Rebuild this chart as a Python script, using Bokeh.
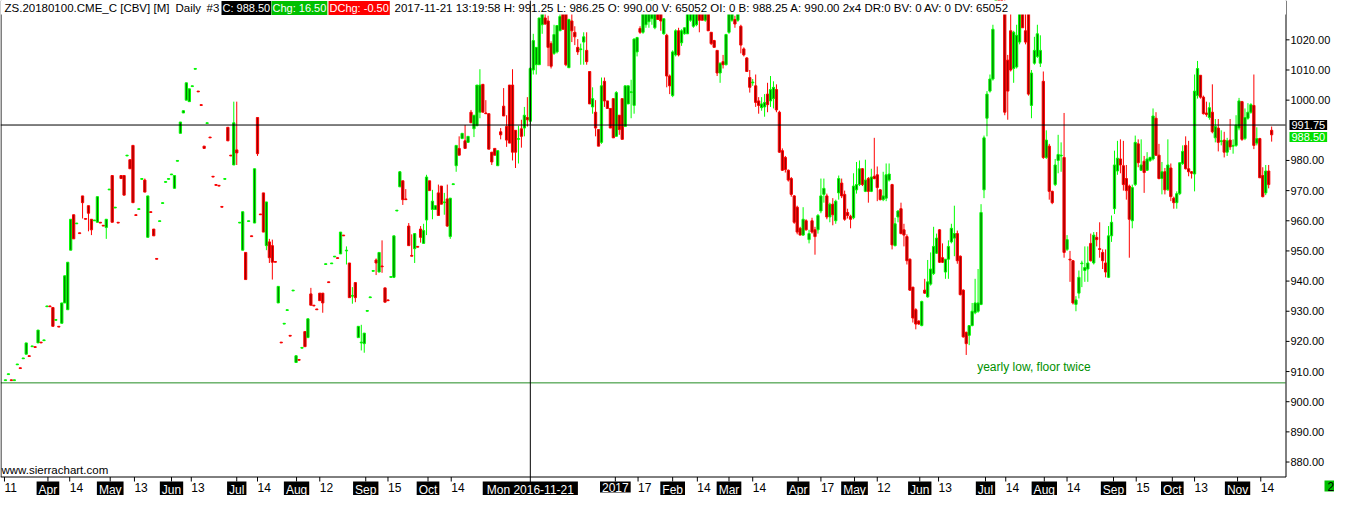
from bokeh.plotting import figure
from bokeh.models import ColumnDataSource, Range1d, Span, Label, BoxAnnotation
from bokeh.core.properties import value
from bokeh.embed import file_html
from bokeh.resources import INLINE

# ---------------- data (daily bars, ZS Jan-2018, Mar 2016 .. 2017-11-21) ----------------
opens = [
    907.0, 909.0, 907.25, 907.0, 912.25, 911.25, 914.25, 915.75, 915.25, 918.25,
    918.25, 919.5, 919.75, 920.25, 931.5, 931.75, 931.25, 927.0, 925.0, 926.0,
    932.75, 930.5, 950.25, 962.0, 959.0, 956.0, 968.25, 960.75, 965.0, 960.5,
    960.0, 959.5, 959.5, 958.5, 957.75, 970.25, 975.0, 964.25, 959.5, 975.0,
    975.0, 981.5, 980.25, 985.0, 962.0, 963.75, 973.75, 973.5, 954.5, 963.0,
    957.25, 947.5, 959.75, 965.75, 972.75, 973.75, 975.25, 970.75, 979.75, 989.0,
    995.75, 1000.0, 999.5, 1004.5, 1010.25, 1003.0, 998.5, 984.75, 992.25, 987.75,
    974.75, 972.0, 971.75, 964.75, 973.75, 991.0, 981.75, 978.5, 983.5, 959.25,
    950.25, 949.5, 959.75, 955.0, 959.25, 994.25, 962.25, 969.25, 951.75, 953.0,
    951.75, 946.5, 932.75, 919.75, 925.75, 930.25, 922.0, 936.75, 913.0, 914.0,
    917.75, 923.25, 921.25, 935.75, 932.0, 930.75, 936.0, 936.0, 945.5, 939.75,
    945.75, 948.0, 947.75, 949.0, 955.25, 950.0, 946.0, 935.0, 939.5, 921.25,
    919.5, 919.25, 930.0, 934.5, 943.25, 947.0, 943.0, 945.0, 937.75, 933.75,
    941.25, 941.25, 963.25, 971.25, 973.25, 967.25, 958.25, 948.5, 950.75, 951.5,
    957.25, 952.5, 960.25, 973.25, 963.75, 963.75, 969.25, 971.5, 966.0, 967.25,
    954.75, 972.0, 978.25, 984.0, 987.25, 986.5, 986.0, 996.0, 990.5, 991.5,
    996.0, 1005.25, 995.75, 995.5, 982.75, 984.0, 978.25, 989.5, 998.0, 991.25,
    1005.0, 1005.0, 990.0, 987.0, 990.5, 990.75, 994.25, 993.0, 1010.0, 1011.75,
    1011.75, 1025.0, 1027.25, 1026.25, 1018.75, 1015.5, 1016.0, 1023.0, 1029.0, 1029.0,
    1010.75, 1026.25, 1022.5, 1017.5, 1016.75, 1019.25, 1016.5, 1009.5, 997.75, 996.0,
    990.25, 986.0, 1006.25, 999.75, 997.25, 1000.5, 988.0, 995.0, 1000.5, 991.25,
    998.75, 1002.5, 998.25, 1016.0, 1023.75, 1022.5, 1025.0, 1026.0, 1027.0, 1024.0,
    1030.0, 1029.5, 1022.0, 1021.5, 1008.0, 1001.5, 1015.0, 1023.0, 1019.0, 1022.0,
    1022.0, 1026.5, 1024.5, 1025.0, 1030.0, 1029.5, 1026.5, 1030.0, 1022.5, 1019.75,
    1016.5, 1009.0, 1012.75, 1011.75, 1022.5, 1026.5, 1026.75, 1026.5, 1024.5, 1017.0,
    1014.0, 1007.5, 1005.75, 1004.75, 999.75, 997.5, 997.75, 1002.0, 999.75, 1000.5,
    1003.5, 996.0, 983.25, 981.0, 976.75, 974.0, 968.25, 964.5, 957.5, 955.25,
    960.0, 953.75, 960.0, 957.0, 957.0, 963.25, 968.75, 968.25, 961.25, 965.5,
    960.0, 969.25, 972.5, 968.75, 962.75, 961.5, 961.0, 970.25, 972.0, 977.25,
    969.75, 974.0, 969.75, 974.75, 975.25, 970.25, 967.0, 967.5, 973.5, 972.0,
    951.75, 961.25, 964.0, 957.0, 954.75, 947.25, 938.0, 930.5, 926.75, 925.25,
    937.0, 934.75, 939.0, 942.5, 949.25, 957.0, 947.75, 943.0, 947.25, 953.0,
    954.25, 955.75, 948.25, 937.0, 923.0, 922.0, 925.25, 929.5, 930.0, 932.25,
    970.25, 994.0, 1003.0, 1007.0, 1030.0, 1040.0, 1036.0, 1031.0, 1013.25, 1023.0,
    1010.5, 1011.0, 1019.25, 1030.0, 1023.0, 1030.0, 998.25, 1012.25, 1014.5, 1012.25,
    1006.25, 981.0, 984.75, 969.75, 972.0, 980.0, 981.5, 981.0, 950.5, 947.25,
    946.75, 932.25, 936.0, 945.75, 943.5, 944.0, 952.5, 946.0, 954.5, 950.75,
    949.5, 946.0, 941.25, 955.0, 964.0, 976.5, 980.5, 978.25, 974.0, 971.5,
    960.0, 972.0, 985.5, 976.75, 979.75, 976.75, 980.0, 980.5, 994.0, 981.75,
    974.0, 976.25, 970.25, 977.5, 967.5, 966.0, 969.0, 979.0, 985.0, 977.25,
    976.25, 975.5, 1001.5, 1008.25, 1001.0, 995.75, 994.25, 996.0, 987.5, 990.75,
    986.25, 986.75, 982.75, 986.75, 984.75, 985.0, 990.75, 999.5, 987.25, 994.0,
    996.0, 998.25, 985.75, 987.25, 975.0, 969.25, 976.5, 990.0,
]
highs = [
    907.25, 909.25, 907.25, 907.25, 912.5, 911.25, 914.5, 919.5, 915.25, 918.5,
    918.25, 923.75, 919.75, 920.5, 931.75, 931.75, 931.25, 927.25, 925.0, 932.75,
    941.75, 946.25, 960.5, 962.0, 959.25, 956.0, 968.25, 960.75, 965.0, 960.5,
    960.25, 968.0, 959.5, 958.5, 960.5, 970.5, 975.0, 964.5, 959.5, 975.0,
    975.0, 981.75, 980.25, 985.0, 962.0, 964.0, 974.0, 974.0, 968.25, 963.0,
    957.25, 947.5, 960.0, 966.0, 973.0, 974.0, 975.5, 975.0, 980.0, 992.75,
    996.5, 1005.75, 1003.75, 1004.75, 1010.5, 1003.0, 998.5, 984.75, 992.5, 987.75,
    974.75, 972.0, 971.75, 964.75, 974.0, 991.0, 981.75, 999.5, 999.5, 959.5,
    963.0, 949.5, 960.0, 955.0, 977.25, 994.25, 962.25, 969.25, 966.25, 954.0,
    953.75, 946.5, 938.25, 919.75, 926.0, 930.5, 922.0, 937.0, 915.25, 914.0,
    918.0, 923.25, 927.5, 937.75, 932.0, 930.75, 936.0, 936.0, 945.75, 939.75,
    946.0, 948.25, 947.75, 956.25, 955.25, 951.5, 946.0, 938.0, 939.5, 925.0,
    925.5, 922.75, 930.25, 934.75, 943.5, 947.5, 949.5, 953.5, 937.75, 933.75,
    941.5, 955.0, 963.5, 976.5, 973.25, 970.5, 959.25, 955.5, 955.75, 951.5,
    958.25, 959.0, 975.25, 973.25, 970.25, 965.0, 972.0, 971.5, 969.25, 972.0,
    967.5, 972.25, 985.0, 988.0, 989.0, 991.75, 988.0, 996.75, 995.0, 1005.0,
    1010.25, 1005.25, 1000.0, 995.5, 982.75, 984.0, 983.25, 990.75, 1004.0, 995.0,
    1005.0, 1010.25, 990.0, 991.5, 993.5, 997.75, 1001.0, 1011.0, 1022.0, 1017.5,
    1027.25, 1031.0, 1029.0, 1028.0, 1019.5, 1025.0, 1024.75, 1029.0, 1030.0, 1030.0,
    1027.0, 1029.0, 1024.5, 1020.25, 1018.75, 1022.5, 1022.5, 1009.5, 1004.25, 1000.0,
    990.25, 1007.5, 1007.5, 999.75, 997.25, 1000.5, 1003.0, 995.0, 1000.5, 1004.75,
    1004.75, 1006.75, 1020.5, 1021.0, 1024.5, 1031.0, 1033.0, 1032.0, 1034.0, 1032.5,
    1031.0, 1030.5, 1027.0, 1022.0, 1008.5, 1016.5, 1023.5, 1024.0, 1023.5, 1024.0,
    1031.5, 1033.0, 1032.0, 1031.0, 1031.0, 1030.5, 1031.5, 1030.5, 1022.5, 1020.0,
    1016.5, 1012.5, 1015.0, 1022.0, 1031.0, 1032.0, 1028.0, 1031.5, 1025.0, 1017.5,
    1014.25, 1010.0, 1007.0, 1008.5, 1001.0, 1001.0, 1002.0, 1005.75, 1008.0, 1006.25,
    1005.25, 996.5, 984.0, 981.5, 977.0, 974.5, 968.5, 965.0, 958.0, 964.5,
    960.5, 957.0, 961.0, 958.0, 962.25, 974.0, 974.0, 969.0, 966.0, 967.5,
    967.0, 975.0, 974.0, 970.0, 964.0, 962.0, 975.75, 979.5, 980.0, 977.5,
    980.25, 974.5, 977.25, 987.5, 978.0, 970.5, 976.25, 979.0, 979.0, 972.25,
    961.0, 963.5, 966.0, 959.0, 955.5, 947.5, 938.0, 931.0, 927.0, 933.5,
    940.75, 947.0, 949.5, 958.0, 955.75, 957.25, 952.5, 947.25, 953.5, 959.0,
    965.0, 956.75, 948.5, 937.25, 923.25, 925.25, 932.75, 940.75, 944.0, 965.5,
    988.25, 1003.0, 1008.5, 1025.0, 1042.0, 1045.0, 1040.0, 1034.0, 1015.0, 1029.5,
    1023.0, 1025.0, 1031.0, 1031.0, 1030.0, 1031.0, 1010.0, 1021.0, 1025.0, 1021.5,
    1009.5, 990.0, 985.5, 970.0, 980.5, 988.5, 986.0, 995.75, 955.25, 950.0,
    947.0, 935.0, 943.5, 946.75, 951.5, 951.5, 955.75, 956.25, 956.25, 959.5,
    950.5, 950.5, 958.25, 961.75, 983.25, 986.5, 987.0, 986.5, 978.5, 972.0,
    972.0, 988.25, 987.0, 987.0, 981.5, 982.75, 981.25, 997.25, 996.0, 985.5,
    979.5, 977.5, 987.0, 979.0, 968.0, 969.75, 979.25, 985.0, 988.0, 986.5,
    976.5, 1008.5, 1013.0, 1008.25, 1001.5, 999.5, 999.25, 1005.25, 993.75, 993.75,
    990.0, 989.5, 987.5, 993.75, 987.0, 995.0, 1000.75, 999.75, 997.25, 999.0,
    999.0, 1008.5, 991.0, 987.5, 977.75, 978.5, 978.5, 991.25,
]
lows = [
    907.0, 909.0, 907.0, 907.0, 912.25, 911.0, 914.25, 915.75, 915.0, 918.25,
    918.0, 919.5, 919.5, 920.25, 931.5, 931.5, 925.0, 927.0, 924.75, 926.0,
    932.75, 930.5, 950.25, 954.0, 959.0, 955.75, 960.75, 960.5, 956.5, 955.25,
    960.0, 959.5, 959.25, 958.25, 954.0, 970.25, 959.5, 964.25, 959.25, 974.0,
    968.5, 981.5, 977.25, 966.0, 961.75, 963.75, 973.75, 969.5, 954.5, 962.75,
    955.0, 947.25, 959.75, 965.75, 972.75, 973.75, 975.25, 970.75, 979.75, 989.0,
    995.75, 1000.0, 999.5, 1004.5, 1010.25, 1002.75, 998.25, 984.0, 992.25, 987.5,
    974.5, 971.75, 971.5, 964.5, 973.75, 986.5, 981.5, 978.5, 978.5, 959.25,
    950.25, 940.5, 959.75, 954.75, 959.25, 981.5, 962.0, 956.25, 950.25, 946.0,
    940.5, 946.25, 932.75, 919.5, 925.75, 930.25, 921.75, 936.75, 913.0, 913.75,
    917.75, 918.25, 921.25, 932.0, 931.75, 930.5, 933.5, 929.5, 945.5, 939.5,
    945.75, 948.0, 947.5, 949.0, 955.0, 945.5, 934.5, 932.5, 933.0, 921.25,
    917.0, 916.25, 930.0, 934.5, 943.25, 942.0, 943.0, 942.75, 933.0, 933.5,
    941.25, 941.0, 963.25, 971.25, 965.25, 967.0, 951.75, 948.25, 946.0, 951.25,
    952.75, 952.5, 955.25, 970.0, 960.5, 963.75, 961.75, 965.5, 962.0, 958.0,
    954.0, 972.0, 976.25, 981.75, 987.25, 984.0, 986.0, 992.5, 987.75, 991.5,
    994.0, 996.0, 995.5, 983.75, 978.5, 981.75, 978.25, 987.0, 994.75, 984.5,
    985.75, 980.0, 977.5, 979.0, 984.25, 988.0, 991.25, 992.0, 1008.5, 1008.5,
    1011.75, 1022.0, 1025.0, 1011.25, 1010.5, 1015.0, 1015.5, 1023.0, 1023.5, 1011.25,
    1010.75, 1019.25, 1018.25, 1015.0, 1011.75, 1011.75, 1011.75, 998.75, 995.5, 988.0,
    984.75, 985.5, 997.75, 997.25, 990.75, 987.5, 988.0, 988.5, 987.0, 991.25,
    998.75, 994.0, 995.5, 1014.5, 1022.0, 1022.0, 1024.0, 1024.0, 1025.0, 1023.5,
    1026.75, 1023.0, 1021.75, 1004.25, 1002.0, 1001.0, 1014.5, 1014.5, 1018.0, 1021.75,
    1022.0, 1026.0, 1024.0, 1024.5, 1022.5, 1026.5, 1026.0, 1023.0, 1018.25, 1017.5,
    1008.0, 1005.75, 1010.5, 1011.5, 1022.0, 1026.0, 1024.0, 1026.0, 1015.5, 1014.5,
    1009.5, 1002.5, 1004.75, 997.75, 995.5, 996.5, 994.5, 996.0, 997.75, 997.25,
    996.0, 982.5, 976.5, 976.0, 973.0, 968.0, 959.0, 955.5, 955.25, 955.0,
    956.75, 952.5, 955.75, 948.75, 955.75, 962.5, 966.0, 960.5, 959.5, 958.5,
    959.0, 967.0, 967.5, 960.0, 960.75, 957.5, 960.5, 969.0, 971.5, 971.5,
    969.5, 966.0, 969.5, 973.75, 966.5, 966.75, 966.5, 966.5, 973.0, 950.5,
    951.5, 959.5, 955.5, 951.5, 945.5, 936.75, 926.25, 924.0, 925.5, 925.0,
    935.75, 934.5, 938.5, 942.0, 949.0, 946.0, 946.0, 940.75, 940.75, 952.5,
    948.25, 945.75, 935.25, 921.25, 915.5, 918.75, 925.0, 929.0, 929.5, 932.0,
    967.5, 988.0, 1002.5, 1006.5, 1029.0, 1032.0, 1030.0, 995.0, 993.5, 1009.5,
    1005.75, 1010.5, 1018.5, 1024.0, 1018.5, 1001.5, 994.0, 1011.75, 1014.0, 1011.0,
    980.5, 980.5, 967.0, 965.5, 971.5, 975.75, 976.25, 947.75, 950.0, 939.75,
    932.25, 930.0, 934.25, 938.0, 939.75, 939.75, 946.5, 945.5, 951.5, 947.75,
    944.0, 941.25, 941.0, 953.0, 962.25, 975.25, 975.75, 970.0, 967.0, 947.75,
    957.5, 971.5, 977.75, 976.5, 969.25, 976.5, 979.5, 980.0, 981.5, 973.75,
    968.75, 968.75, 970.0, 966.5, 964.0, 964.0, 968.5, 978.5, 977.0, 974.75,
    974.0, 969.75, 1000.5, 1000.5, 995.25, 994.5, 993.5, 989.0, 986.0, 983.0,
    985.0, 981.0, 981.5, 983.5, 982.25, 984.5, 990.0, 986.5, 986.75, 993.5,
    995.5, 983.75, 985.0, 974.25, 967.75, 968.5, 970.75, 986.25,
]
closes = [
    907.25, 909.25, 907.0, 907.25, 912.5, 911.0, 914.5, 919.5, 915.0, 918.5,
    918.0, 923.75, 919.5, 920.5, 931.75, 931.5, 925.0, 927.25, 924.75, 932.75,
    941.75, 946.25, 960.5, 954.0, 959.25, 955.75, 966.0, 960.5, 962.5, 957.0,
    960.25, 968.0, 959.25, 958.25, 960.5, 970.5, 959.5, 964.5, 959.25, 974.0,
    968.5, 981.75, 977.25, 966.0, 961.75, 964.0, 974.0, 969.5, 968.25, 962.75,
    955.0, 947.25, 960.0, 966.0, 973.0, 974.0, 975.5, 975.0, 980.0, 992.75,
    996.5, 1005.75, 1003.75, 1004.75, 1010.5, 1002.75, 998.25, 984.0, 992.5, 987.5,
    974.5, 971.75, 971.5, 964.5, 974.0, 986.5, 981.5, 992.5, 982.5, 959.5,
    963.0, 940.5, 960.0, 954.75, 977.25, 982.25, 962.0, 956.25, 966.25, 947.75,
    946.25, 946.25, 938.25, 919.5, 926.0, 930.5, 921.75, 937.0, 915.25, 913.75,
    918.0, 918.25, 927.5, 932.0, 931.75, 930.5, 933.5, 932.75, 945.75, 939.5,
    946.0, 948.25, 947.5, 956.25, 955.0, 950.25, 934.5, 935.25, 934.5, 925.0,
    919.75, 922.75, 930.25, 934.75, 943.5, 946.0, 949.5, 944.75, 933.0, 933.5,
    941.5, 955.0, 963.5, 976.25, 967.0, 967.0, 951.75, 948.25, 955.75, 951.25,
    954.5, 956.75, 974.5, 970.0, 966.5, 965.0, 961.75, 965.5, 966.25, 958.25,
    967.5, 972.25, 985.0, 981.75, 989.0, 984.0, 988.0, 992.5, 995.0, 1005.0,
    1005.0, 996.0, 995.5, 983.75, 979.5, 981.75, 983.25, 988.5, 994.75, 986.75,
    985.75, 982.75, 982.75, 987.25, 988.0, 995.0, 993.5, 1010.5, 1019.75, 1017.5,
    1027.25, 1030.0, 1025.25, 1017.5, 1011.25, 1021.75, 1024.75, 1027.75, 1023.5, 1011.75,
    1026.75, 1023.0, 1021.0, 1016.0, 1017.0, 1021.0, 1012.75, 998.75, 1000.5, 990.75,
    984.75, 1004.75, 999.75, 997.25, 990.75, 987.5, 1002.5, 990.25, 987.0, 1004.75,
    1004.75, 1002.75, 1020.25, 1020.75, 1022.5, 1029.5, 1031.0, 1030.0, 1032.0, 1030.5,
    1026.75, 1026.25, 1027.0, 1008.0, 1004.75, 1016.0, 1023.0, 1015.0, 1023.0, 1024.0,
    1030.0, 1031.5, 1030.5, 1029.5, 1026.5, 1026.5, 1029.0, 1023.0, 1018.75, 1017.5,
    1009.0, 1012.25, 1011.75, 1021.75, 1029.5, 1030.5, 1025.25, 1030.0, 1018.25, 1015.0,
    1009.5, 1004.25, 1006.0, 999.25, 998.25, 998.75, 999.25, 998.5, 1003.5, 1004.25,
    996.75, 982.75, 976.75, 977.0, 973.5, 968.75, 959.5, 956.25, 955.25, 960.5,
    957.0, 955.75, 956.25, 954.75, 961.75, 968.25, 970.75, 961.25, 965.5, 962.0,
    966.5, 974.0, 968.25, 960.5, 961.75, 960.5, 971.5, 972.0, 977.25, 972.0,
    973.5, 969.75, 974.5, 974.0, 971.0, 967.0, 968.25, 975.25, 975.5, 952.0,
    959.0, 963.25, 955.75, 955.25, 946.75, 937.0, 927.75, 925.75, 925.75, 933.25,
    936.0, 939.75, 944.0, 951.5, 954.25, 946.25, 946.25, 947.25, 951.5, 957.5,
    955.75, 946.75, 935.5, 921.5, 919.25, 925.25, 930.0, 932.75, 932.75, 962.75,
    987.5, 1002.0, 1007.0, 1023.5, 1040.0, 1036.0, 1033.0, 996.0, 1003.0, 1010.0,
    1022.5, 1021.5, 1030.0, 1024.0, 1019.25, 1002.0, 1009.0, 1016.5, 1022.0, 1016.5,
    981.0, 986.75, 969.75, 966.0, 978.5, 982.0, 981.75, 949.5, 953.75, 947.0,
    932.75, 933.75, 941.25, 946.0, 944.5, 946.0, 946.75, 955.25, 953.75, 950.5,
    946.75, 943.0, 955.0, 959.5, 978.5, 980.75, 978.5, 972.0, 970.0, 960.5,
    971.0, 986.0, 979.25, 978.5, 976.0, 980.5, 981.0, 994.75, 981.75, 974.0,
    976.25, 970.25, 978.5, 968.0, 966.0, 969.0, 979.25, 983.0, 977.25, 976.25,
    975.75, 1003.0, 1010.5, 1001.0, 995.5, 995.25, 997.5, 989.5, 991.25, 986.0,
    986.5, 982.75, 986.5, 984.5, 985.0, 991.75, 999.75, 987.0, 994.25, 996.0,
    998.5, 985.0, 987.25, 974.25, 968.0, 976.5, 972.0, 988.5,
]

# date scale: bar index of each tick, and the label text
tick_index = [-0.33, 14.33, 21.67, 35.33, 43.5, 56.0, 62.67, 78.0, 85.0, 98.17,
              106.0, 121.5, 129.0, 142.5, 150.33, 205.67, 213.33, 225.0, 233.33, 244.0,
              252.0, 267.33, 275.0, 286.33, 294.0, 308.33, 314.67, 330.5, 337.33, 350.33,
              358.0, 373.67, 381.33, 393.5, 401.0, 415.5, 423.33]
tick_labels = ["11", "Apr", "14", "May", "13", "Jun", "13", "Jul", "14", "Aug",
               "12", "Sep", "15", "Oct", "14", "2017", "17", "Feb", "14", "Mar",
               "14", "Apr", "17", "May", "12", "Jun", "13", "Jul", "14", "Aug",
               "14", "Sep", "15", "Oct", "13", "Nov", "14"]
boxed_labels = ["Jan", "Feb", "Mar", "Apr", "May", "Jun", "Jul", "Aug", "Sep", "Oct", "Nov", "Dec", "2017"]
price_ticks = [880, 890, 900, 910, 920, 930, 940, 950, 960, 970, 980, 1000, 1010, 1020]

cursor_index = 177
cursor_date = "Mon 2016-11-21"
cursor_price = 991.75
last_price = 988.50
support_price = 906.25
note_index = 327.7
note_price = 911.6
note_text = "yearly low, floor twice"

header_name = "ZS.20180100.CME_C [CBV] [M]"
header_period = "Daily"
header_num = "#3"
header_close = "C: 988.50"
header_chg = "Chg: 16.50"
header_dchg = "DChg: -0.50"
header_info = ("2017-11-21 13:19:58 H: 991.25 L: 986.25 O: 990.00 V: 65052 OI: 0 "
               "B: 988.25 A: 990.00 2x4 DR:0 BV: 0 AV: 0 DV: 65052")

n = len(closes)
assert len(opens) == n and len(highs) == n and len(lows) == n, (len(opens), len(highs), len(lows), n)

# ---------------- layout (pixels) ----------------
W, H = 1334, 495          # canvas
CHART_W = 1285            # candle area width (price scale to the right of it)
TOP_H, CHART_H = 14, 462  # header strip, candle area height; date strip below
X_START, X_END = -1.67, 431.67
Y_LOW, Y_HIGH = 875.2, 1028.4
XS = CHART_W / (X_END - X_START)
YS = CHART_H / (Y_HIGH - Y_LOW)
FONT = "Liberation Sans"
UP_EDGE, UP_FILL = "#00FF00", "#007800"
DN_EDGE, DN_FILL = "#FF0000", "#9A0000"


def xpx(px):
    return X_START + px / XS


def ypx(py):
    return Y_HIGH - (py - TOP_H) / YS


p = figure(width=W, height=H, x_range=Range1d(xpx(0), xpx(W)), y_range=Range1d(ypx(H), ypx(0)),
           x_axis_location=None, y_axis_location=None, output_backend="svg", toolbar_location=None,
           min_border=0, min_border_left=0, min_border_right=0, min_border_top=0, min_border_bottom=0)
p.outline_line_color = None
p.xgrid.visible = False
p.ygrid.visible = False
p.background_fill_color = "white"
p.border_fill_color = "white"

# support line
p.segment(x0=[X_START], y0=[support_price], x1=[X_END], y1=[support_price], line_color="#228B22", line_width=1)

# candles
up = [c >= o for o, c in zip(opens, closes)]
src = ColumnDataSource(dict(
    x=list(range(n)), high=highs, low=lows,
    top=[max(o, c) for o, c in zip(opens, closes)],
    bottom=[min(o, c) for o, c in zip(opens, closes)],
    edge=[UP_EDGE if u else DN_EDGE for u in up],
    fill=[UP_FILL if u else DN_FILL for u in up],
))
p.segment(x0="x", y0="low", x1="x", y1="high", line_color="edge", line_width=1, source=src)
p.vbar(x="x", width=0.76, top="top", bottom="bottom", fill_color="fill",
       line_color="edge", line_width=1, source=src)

# crosshair price line
p.segment(x0=[X_START], y0=[cursor_price], x1=[X_END], y1=[cursor_price], line_color="black", line_width=1)

# price scale (right), date scale line (bottom), left border
AX = xpx(CHART_W + 0.5)
BY = ypx(TOP_H + CHART_H + 0.5)
p.segment(x0=[AX, X_START, xpx(0.5)], y0=[BY, BY, BY], x1=[AX, AX, xpx(0.5)], y1=[ypx(0), BY, ypx(0)],
          line_color="black", line_width=1)
p.segment(x0=[AX] * len(price_ticks), y0=price_ticks, x1=[xpx(CHART_W + 4)] * len(price_ticks), y1=price_ticks,
          line_color="black", line_width=1)
p.text(x=[xpx(CHART_W + 5)] * len(price_ticks), y=price_ticks, text=[f"{t:.2f}" for t in price_ticks],
       text_font=value(FONT), text_font_size="11px", text_color="black",
       text_baseline="middle", text_align="left")

# date ticks
p.segment(x0=tick_index, y0=[BY] * len(tick_index), x1=tick_index,
          y1=[ypx(TOP_H + CHART_H + 5)] * len(tick_index), line_color="black", line_width=1)

# note
p.text(x=[note_index], y=[note_price], text=[note_text], text_font=value(FONT),
       text_font_size="12px", text_color="#009000", text_baseline="middle", text_align="left")

# header strip masks candles above the visible scale
p.add_layout(BoxAnnotation(bottom=Y_HIGH, right=AX, fill_color="white", fill_alpha=1.0, line_color=None))
p.add_layout(Span(location=cursor_index, dimension="height", line_color="black", line_width=1))

p.add_layout(Label(x=xpx(1), y=ypx(TOP_H + CHART_H - 1), text="www.sierrachart.com",
                   text_font=FONT, text_font_size="11.5px", text_color="black",
                   text_baseline="bottom", text_align="left"))

HY = ypx(7.5)


def head(px, text, fill=None, color="black", size="11.5px"):
    p.add_layout(Label(x=xpx(px), y=HY, text=text, text_font=FONT, text_font_size=size,
                       text_color=color, text_baseline="middle", text_align="left",
                       background_fill_color=fill, padding=(1, 1)))


head(3, header_name)
head(174, header_period)
head(205, header_num)
head(221, header_close, "black", "white", "11px")
head(271, header_chg, "#00C000", "white", "11px")
head(328, header_dchg, "#FF0000", "white", "11px")
head(393, header_info)

# date labels
DY = ypx(TOP_H + CHART_H + 5)
for pos, lab in zip(tick_index, tick_labels):
    boxed = lab in boxed_labels
    p.add_layout(Label(x=pos, y=DY, x_offset=0 if boxed else -2, text=lab,
                       text_font=FONT, text_font_size="12px",
                       text_color="white" if boxed else "black",
                       text_baseline="top", text_align="center" if boxed else "left",
                       background_fill_color="black" if boxed else None, padding=(2, 1)))

p.add_layout(Label(x=cursor_index, y=DY, text=cursor_date, text_font=FONT, text_font_size="12px",
                   text_color="white", text_baseline="top", text_align="center",
                   background_fill_color="black", padding=(4, 1)))

# price boxes on the scale
p.add_layout(Label(x=xpx(CHART_W + 4), y=cursor_price, text=f"{cursor_price:.2f}",
                   text_font=FONT, text_font_size="11px", text_color="white",
                   text_baseline="middle", text_align="left",
                   background_fill_color="black", padding=(2, 1)))
p.add_layout(Label(x=xpx(CHART_W + 4), y=last_price - 0.7, text=f"{last_price:.2f}",
                   text_font=FONT, text_font_size="11px", text_color="white",
                   text_baseline="middle", text_align="left",
                   background_fill_color="#00E000", padding=(2, 1)))

# corner box
p.add_layout(Label(x=xpx(W - 10), y=ypx(TOP_H + CHART_H + 4), text="2", text_font=FONT,
                   text_font_size="12px", text_color="black", text_baseline="top", text_align="left",
                   background_fill_color="#00C000", padding=(3, 1)))

open("out.html", "w").write(file_html(p, INLINE))
